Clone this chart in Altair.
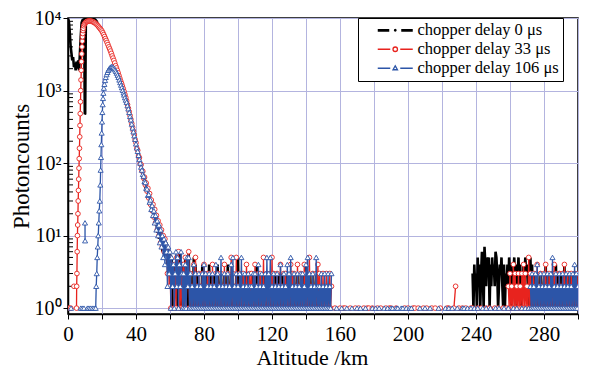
import altair as alt
import pandas as pd

SERIES = ["chopper delay 0 μs", "chopper delay 33 μs", "chopper delay 106 μs"]
COLORS = ["#000000", "#e8231e", "#2c55a8"]
X_TICKS = list(range(0, 301, 20))
Y_TICKS = [1, 10, 100, 1000, 10000]
Y_MINOR = [m * d for d in (1, 10, 100, 1000) for m in range(2, 10)]

# ---------------- black : chopper delay 0 us ----------------
BLACK_NEAR_X = [0, 0.5, 1, 1.5, 2, 2.5, 3, 3.5, 4, 4.5, 5, 5.5, 6, 6.5, 7, 7.5, 8, 8.5,
                9, 9.5, 9.9, 10.1, 10.5, 11, 12, 13, 14, 15, 16, 17]
BLACK_NEAR_Y = [9800, 9000, 6500, 4200, 3300, 2600, 2900, 2100, 2400, 1900, 2500, 2000,
                2600, 1900, 3200, 5500, 8600, 9300, 9500, 9600, 470, 480, 9700, 9800,
                9900, 9900, 9900, 9800, 9500, 8900]
BLACK_DECAY_START = 17.5          # 0.5 km steps
BLACK_DECAY = [7800, 7500, 7250, 7000, 6750, 6500, 6150, 5800, 5450, 5100, 4800, 4500,
               4200, 3900, 3650, 3400, 3150, 2900, 2700, 2500, 2320, 2130, 1980, 1840,
               1700, 1550, 1420, 1310, 1210, 1110, 1020, 930, 850, 770, 690, 620, 550,
               490, 435, 385, 340, 300, 265, 235, 205, 182, 158, 143, 122, 113, 96, 90,
               76, 73, 60, 61, 48, 51, 40, 43, 32, 36, 26, 30, 21, 25, 17, 21, 14, 18,
               11, 15, 9, 13, 8, 11, 6, 10, 6, 9, 5]
# counts read off the noisy parts (one digit per bin, 0 = no count)
BLACK_NOISE_58 = ("84736251424351526141" "32524161312152413121" "21413121314131213121"
                  "41213121312141213121" "21315121312131213121" "21312141312131213121"
                  "21213121312131213121" "21312131213121312131" "21314121312131213121"
                  "21")                                      # 0.5 km from 58 km
BLACK_SPARSE_156 = ""                                        # 1 km from 156 km
BLACK_FAR_238 = ("31423152413631742535" "14253426531243521413" "24253412352413524132"
                 "42534231524131213121" "31213141312131213141" "31213121413121312131"
                 "21312")                                    # 0.5 km from 238 km

# ---------------- red : chopper delay 33 us ----------------
RED_NEAR_X = [0.6, 1.6, 2.3, 3.5, 4.2, 5.0, 5.1, 5.25, 5.4, 5.55, 5.7, 5.85, 6.0, 6.15,
              6.3, 6.45, 6.6, 6.75, 6.9, 7.05, 7.2, 7.35, 7.5, 7.65, 7.8, 7.95, 8.1,
              8.25, 8.4, 8.55, 8.7, 8.85, 9.0, 9.3, 9.6]
RED_NEAR_Y = [1, 1, 0, 2, 0, 1, 2, 3, 6, 10, 14, 20, 30, 42, 60, 85, 115, 160, 230, 330,
              480, 700, 1000, 1400, 1900, 2500, 3200, 4000, 4800, 5500, 6100, 6700,
              7200, 7800, 8200]
RED_DECAY_START = 10.0
RED_DECAY = [8500, 8750, 8900, 9000, 9100, 9100, 9100, 9050, 9000, 8900, 8800, 8650,
             8500, 8300, 8100, 7850, 7600, 7350, 7100, 6850, 6600, 6250, 5900, 5550,
             5200, 4900, 4600, 4300, 4000, 3750, 3500, 3250, 3000, 2800, 2600, 2400,
             2200, 2050, 1900, 1750, 1600, 1470, 1350, 1250, 1150, 1060, 970, 880, 800,
             720, 640, 570, 510, 450, 400, 350, 310, 275, 245, 210, 190, 160, 150, 125,
             118, 98, 95, 78, 77, 62, 64, 50, 53, 41, 45, 33, 38, 27, 31, 22, 27, 18,
             23, 15, 19, 12, 16, 10, 14, 8, 12, 7, 10, 6, 9, 5]
RED_NOISE_58 = ("73625142314152613141" "41513261312141512131" "21314121313121412131"
                "31213121412131215131" "21512131213121412131" "31214121313121512131"
                "21315131213121412131" "31212141313121412131" "21413121512131213141"
                "312131213121312")
RED_SPARSE_156 = ("0100101100" "1001010010" "1101001010" "0101100100" "0010100110"
                  "1001010010" "1001000110" "0120101010" "01")
RED_FAR_238 = ("10000010001000001000" "10000010001000001000" "10"
               "21312141312131213141" "31215131213121412131" "21314121312131413121"
               "31213141213121312131" "213")

# ---------------- blue : chopper delay 106 us ----------------
BLUE_NEAR_X = [1.8, 2.6, 7.5, 8.4, 9.4, 9.7, 10.0, 10.05, 10.3, 11.4, 12.3, 13.3, 14.3,
               15.3, 16.3, 16.6, 16.9, 17.2, 17.5, 17.8, 18.1, 18.4, 18.7, 19.0, 19.2,
               19.4, 19.6, 19.8, 20.0, 20.2, 20.4, 20.6, 20.8, 21.1, 21.4, 21.8, 22.2,
               22.7, 23.2, 23.7, 24.2, 24.7, 25.2, 25.7, 26.2, 26.7, 27.2, 27.7, 28.2,
               28.7, 29.2, 29.7, 30.2, 30.7, 31.2, 31.7, 32.2, 32.7]
BLUE_NEAR_Y = [1, 0, 1, 1, 1, 0, 15, 8.5, 0, 1, 1, 1, 1, 1, 1, 2, 3, 5, 7, 10, 15, 22, 30,
               50, 80, 120, 180, 260, 370, 500, 640, 780, 920, 1080, 1220, 1380, 1520,
               1660, 1780, 1900, 1990, 2060, 2110, 2140, 2120, 2080, 2010, 1930, 1840,
               1740, 1630, 1520, 1400, 1290, 1190, 1100, 1010, 930]
BLUE_DECAY_START = 33.0
BLUE_DECAY = [870, 800, 740, 690, 620, 560, 500, 440, 395, 345, 305, 270, 238, 212, 184,
              162, 145, 128, 112, 100, 88, 80, 70, 66, 56, 54, 45, 44, 36, 37, 29, 31,
              23, 26, 19, 22, 15, 19, 12, 16, 10, 14, 8, 12, 7, 10, 5, 9, 4, 8]
BLUE_NOISE_58 = ("62736152413625142631" "31415251312141312131" "21314131213121312141"
                 "31215121312131214151" "21312131512131213121" "21313121412131213151"
                 "31512131213121412131" "21413151213121312131" "31214151312131215121"
                 "213121312131213")
BLUE_SPARSE_156 = ("0010010010" "0100101001" "0001010100" "1010110110" "1101011000"
                   "0100100100" "0010001010" "1001001101" "01")
BLUE_FAR_238 = ("00100010000010001000" "01000001000100000100" "00100000100010000010"
                "00100010"
                "21312131412131213121" "31213151213121312131" "21312131213141312")


def build(near_x, near_y, decay_start, decay, noise58, sparse156, far238):
    xs = list(near_x)
    ys = list(near_y)
    xs += [decay_start + 0.5 * i for i in range(len(decay))]
    ys += list(decay)
    for start, step, s in [(58, 0.5, noise58), (156, 1.0, sparse156), (238, 0.5, far238)]:
        xs += [start + step * i for i in range(len(s))]
        ys += [int(c) for c in s]
    rows, seg, prev_x, prev_ok = [], 0, None, False
    for x, y in zip(xs, ys):
        if y > 0:
            if not prev_ok or (prev_x is not None and x - prev_x > 1.01):
                seg += 1
            rows.append((x, y, seg))
            prev_ok = True
        else:
            prev_ok = False
        prev_x = x
    return pd.DataFrame(rows, columns=["alt", "count", "seg"])


black = build(BLACK_NEAR_X, BLACK_NEAR_Y, BLACK_DECAY_START, BLACK_DECAY,
              BLACK_NOISE_58, BLACK_SPARSE_156, BLACK_FAR_238)
red = build(RED_NEAR_X, RED_NEAR_Y, RED_DECAY_START, RED_DECAY,
            RED_NOISE_58, RED_SPARSE_156, RED_FAR_238)
blue = build(BLUE_NEAR_X, BLUE_NEAR_Y, BLUE_DECAY_START, BLUE_DECAY,
             BLUE_NOISE_58, BLUE_SPARSE_156, BLUE_FAR_238)

FONT = "Liberation Serif"
GRID = "#b3b4df"

x_scale = alt.Scale(domain=[0, 300], nice=False, zero=False)
y_scale = alt.Scale(type="log", domain=[0.83, 10000], nice=False)

x_axis = alt.Axis(values=X_TICKS, labelExpr="datum.value % 40 == 0 ? datum.label : ''",
                  format="d", grid=True, gridColor=GRID, gridWidth=1, tickSize=5,
                  tickColor="black", labelPadding=4, labelFontSize=21, labelFont=FONT,
                  labelColor="black", labelFlush=False, labelOverlap=False,
                  domainColor="black", domainWidth=1.5, titleFont=FONT, titleFontSize=22,
                  titleFontWeight="normal", titleColor="black", titleX=244, titleY=50,
                  titleBaseline="alphabetic", titleAlign="center")
y_axis = alt.Axis(values=Y_TICKS,
                  labelExpr="'10' + ['⁰','¹','²','³','⁴'][round(log(datum.value)/LN10)]",
                  grid=True, gridColor=GRID, gridWidth=1, tickSize=5, tickColor="black",
                  labelPadding=2, labelFontSize=20, labelFont=FONT, labelColor="black",
                  labelFlush=False, domainColor="black", domainWidth=1.5, titleFont=FONT,
                  titleFontSize=23, titleFontWeight="normal", titleColor="black",
                  titleX=-40, titleY=148, titleAngle=270, titleBaseline="alphabetic",
                  titleAlign="center")

X = alt.X("alt:Q", scale=x_scale, axis=x_axis, title="Altitude /km")
Y = alt.Y("count:Q", scale=y_scale, axis=y_axis, title="Photoncounts")


def line(df, color, width):
    return alt.Chart(df).mark_line(color=color, strokeWidth=width, clip=True).encode(
        x=X, y=Y, detail="seg:N")


def points(df, color, shape, size):
    return alt.Chart(df).mark_point(shape=shape, size=size, filled=True, fill="white",
                                    stroke=color, strokeWidth=0.9, opacity=1,
                                    clip=True).encode(x=X, y=Y)


minor = alt.Chart(pd.DataFrame({"count": Y_MINOR})).mark_rule(
    color="black", strokeWidth=1).encode(x=alt.value(0), x2=alt.value(5), y=Y)

PATHS = [
    "M-3.5,-0.1L-1.2,-0.1M-3.5,0.15L-1.2,0.15M1.2,-0.1L3.5,-0.1M1.2,0.15L3.5,0.15"
    "M0.15,0A0.15,0.15 0 1 1 -0.15,0A0.15,0.15 0 1 1 0.15,0",
    "M-3.5,0L-1,0M1,0L3.5,0M0.45,0A0.45,0.45 0 1 1 -0.45,0A0.45,0.45 0 1 1 0.45,0",
    "M-3.5,0L-1,0M1,0L3.5,0M0,-0.5L0.45,0.3L-0.45,0.3Z",
]
leg = alt.Legend(title=None, orient="none", legendX=290, legendY=0, strokeColor="black",
                 fillColor="white", padding=4, rowPadding=2, symbolSize=100,
                 symbolStrokeWidth=1.3, symbolFillColor="white", symbolOffset=25,
                 labelOffset=14, labelFont=FONT, labelFontSize=16.5, labelColor="black",
                 labelLimit=400, cornerRadius=0)
leg_df = pd.DataFrame({"series": SERIES, "alt": [-50] * 3, "count": [1000] * 3})
legend_layer = alt.Chart(leg_df).mark_point(filled=True, fill="white", opacity=1,
                                            clip=True).encode(
    x=X, y=Y,
    stroke=alt.Stroke("series:N", scale=alt.Scale(domain=SERIES, range=COLORS), legend=leg),
    shape=alt.Shape("series:N", scale=alt.Scale(domain=SERIES, range=PATHS), legend=leg),
)

chart = alt.layer(
    minor,
    line(black, COLORS[0], 2.6),
    line(red, COLORS[1], 1.3),
    points(red, COLORS[1], "circle", 22),
    line(blue, COLORS[2], 1.3),
    points(blue, COLORS[2], "triangle-up", 26),
    legend_layer,
).properties(
    width=510, height=296,
    padding={"left": 60, "top": 10, "right": 7, "bottom": 62},
    autosize="none",
    background="white",
).configure_view(stroke="black", strokeWidth=1.5)

chart.save("out.html", embed_options={"renderer": "svg", "actions": False})
